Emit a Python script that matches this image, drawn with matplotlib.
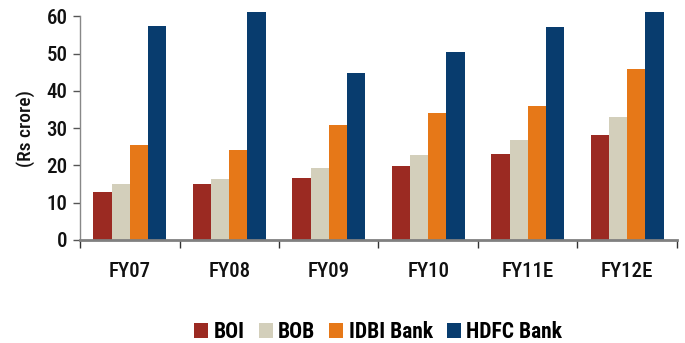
import matplotlib
matplotlib.use("Agg")
import matplotlib.pyplot as plt
import numpy as np
from matplotlib import font_manager
from matplotlib.font_manager import FontProperties
import os

categories = ["FY07", "FY08", "FY09", "FY10", "FY11E", "FY12E"]
series_names = ["BOI", "BOB", "IDBI Bank", "HDFC Bank"]
boi = [12.8, 14.9, 16.5, 19.8, 23.0, 28.1]
bob = [14.9, 16.3, 19.2, 22.7, 26.8, 33.0]
idbi = [25.4, 24.1, 30.8, 34.0, 35.9, 45.9]
hdfc = [57.4, 61.2, 44.8, 50.4, 57.2, 61.2]
colors = ["#9B2A22", "#D3CFBB", "#E67818", "#083C6E"]
yticks = [0, 10, 20, 30, 40, 50, 60]

files = font_manager.findSystemFonts()
bymap = {os.path.basename(f).lower(): f for f in files}


def pick(names):
    for n in names:
        if n.lower() in bymap:
            return bymap[n.lower()]
    return None


reg_file = pick(["LiberationSansNarrow-Regular.ttf", "RobotoCondensed-Medium.ttf",
                 "RobotoCondensed-Regular.ttf",
                 "ArchivoNarrow-Regular.ttf", "PTSansNarrow-Regular.ttf",
                 "ArchivoNarrow[wght].ttf", "BarlowCondensed-Regular.ttf",
                 "DejaVuSansCondensed.ttf"])
bold_file = pick(["LiberationSansNarrow-Bold.ttf", "RobotoCondensed-Bold.ttf",
                  "ArchivoNarrow-Bold.ttf", "PTSansNarrow-Bold.ttf",
                  "BarlowCondensed-Bold.ttf", "DejaVuSansCondensed-Bold.ttf"])


def fp(f, size, bold=False):
    if f:
        return FontProperties(fname=f, size=size)
    return FontProperties(family="DejaVu Sans", size=size, weight="bold" if bold else "normal")


fig = plt.figure(figsize=(6.85, 3.43), dpi=100)
ax = fig.add_axes([0.1168, 0.301, 0.8715, 0.651])

data = [boi, bob, idbi, hdfc]
x = np.arange(len(categories))
w = 0.183
for i, (vals, c, n) in enumerate(zip(data, colors, series_names)):
    ax.bar(x + (i - 1.5) * w, vals, width=w, color=c, label=n, clip_on=False, zorder=2)

ax.set_xlim(-0.5, len(categories) - 0.5)
ax.set_ylim(0, 60)
ax.set_yticks(yticks)
ax.set_yticklabels([str(v) for v in yticks], fontproperties=fp(reg_file, 15))
ax.set_xticks(x)
ax.set_xticklabels(categories, fontproperties=fp(reg_file, 15))
ax.set_xticks(np.arange(-0.5, len(categories), 1.0), minor=True)
ax.tick_params(axis="x", which="major", length=0, pad=16, colors="#111111")
ax.tick_params(axis="x", which="minor", length=6, width=1, color="#333333", direction="out")
ax.tick_params(axis="y", length=5, width=1, color="#555555", pad=4, labelcolor="#111111")
for s in ["top", "right"]:
    ax.spines[s].set_visible(False)
ax.spines["left"].set_color("#888888")
ax.spines["left"].set_linewidth(1)
ax.spines["bottom"].set_color("#808080")
ax.spines["bottom"].set_linewidth(2)
ax.spines["bottom"].set_zorder(3)
ax.set_ylabel("(Rs crore)", fontproperties=fp(reg_file, 14), labelpad=8, color="#111111")

leg = fig.legend(loc="center", bbox_to_anchor=(0.552, 0.032), ncol=4, frameon=False,
                 prop=fp(bold_file, 15.5, bold=True),
                 handlelength=0.65, handleheight=0.65, handletextpad=0.25, columnspacing=0.65)

fig.savefig("out.png", dpi=100)
